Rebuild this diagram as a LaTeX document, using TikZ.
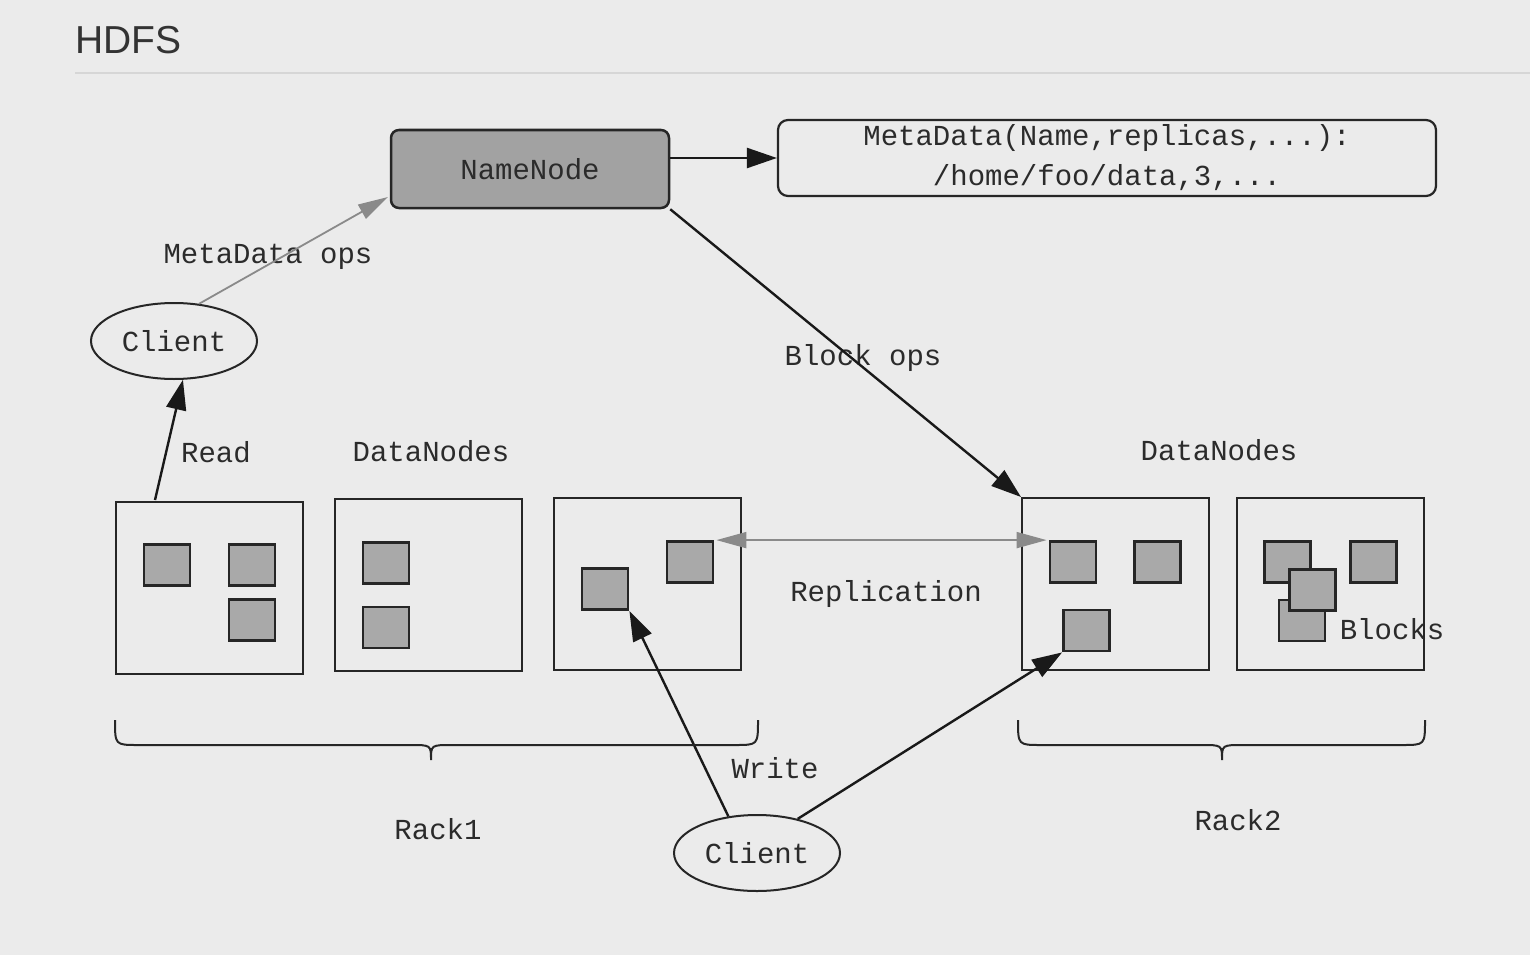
\documentclass[tikz,border=0pt]{standalone}
\usepackage{fontspec}
\setmainfont{Liberation Mono}
\newfontfamily\titlefont{Liberation Sans}
\usetikzlibrary{arrows.meta,calc,shapes.geometric}
\definecolor{bgc}{HTML}{EBEBEB}
\definecolor{txt}{HTML}{2B2B2B}
\definecolor{blkgray}{HTML}{A9A9A9}
\definecolor{nngray}{HTML}{A2A2A2}
\definecolor{arrgray}{HTML}{8A8A8A}
\definecolor{rulec}{HTML}{D6D6D6}
\begin{document}
\begin{tikzpicture}[x=1pt,y=-1pt,
  every node/.style={font=\fontsize{29}{40}\selectfont, text=txt, inner sep=0pt},
  dnode/.style={draw=black!85, line width=2pt, minimum width=187pt, minimum height=172pt},
  blk/.style={draw=black!85, line width=2.8pt, fill=blkgray, minimum width=46pt, minimum height=41pt},
  cli/.style={ellipse, draw=black!85, line width=2pt, minimum width=166pt, minimum height=76pt},
  blkarrow/.style={draw=black!90, line width=2.4pt, -{Triangle[length=30pt,width=20pt]}},
  grayarrow/.style={draw=arrgray, line width=1.8pt, -{Triangle[length=30pt,width=16pt]}},
  bracec/.style={draw=black!85, line width=2pt}
]
\useasboundingbox (0,0) rectangle (1530,955);
\fill[bgc] (0,0) rectangle (1530,955);
% title
\node[font=\titlefont\fontsize{39}{40}\selectfont, text=black!80, anchor=base west] (title) at (75,54) {HDFS};
\draw[rulec, line width=2pt] (75,73) -- (1530,73);

% NameNode and metadata
\node[draw=black!85, line width=2.5pt, fill=nngray, rounded corners=8pt, minimum width=278pt, minimum height=78pt] (nn) at (530,169) {NameNode};
\node[draw=black!85, line width=2.2pt, rounded corners=10pt, minimum width=658pt, minimum height=76pt, align=center] (meta) at (1107,158) {MetaData(Name,replicas,...):\\/home/foo/data,3,...};
\draw[blkarrow] (nn.east |- meta.west) -- (meta.west);

% clients
\node[cli] (c1) at (174,341) {Client};
\node[cli] (c2) at (757,853) {Client};

% datanodes
\node[dnode] (b1) at (209.5,587.5) {};
\node[dnode] (b2) at (428.5,585) {};
\node[dnode] (b3) at (647.5,584) {};
\node[dnode] (b4) at (1115.5,584) {};
\node[dnode] (b5) at (1330.5,584) {};

% blocks
\node[blk] (k11) at (167,565) {};
\node[blk] (k12) at (252,565) {};
\node[blk] (k13) at (252,620) {};
\node[blk] (k21) at (386,563) {};
\node[blk] (k22) at (386,627.5) {};
\node[blk] (k31) at (605,589) {};
\node[blk] (k32) at (690,562) {};
\node[blk] (k41) at (1073,562) {};
\node[blk] (k42) at (1157.5,562) {};
\node[blk] (k43) at (1086.5,630.5) {};
\node[blk] (k51) at (1287.5,562) {};
\node[blk] (k53) at (1302,620.5) {};
\node[blk] (k52) at (1312.5,590) {};
\node[blk] (k54) at (1373.5,562) {};

% labels
\node (lmd) at (268,257) {MetaData ops};
\node (lrd) at (216,452) {Read};
\node (ldn1) at (431,451) {DataNodes};
\node (ldn2) at (1219,450) {DataNodes};
\node (lbo) at (863,358) {Block ops};
\node (lrep) at (886,594) {Replication};
\node (lblk) at (1392,629) {Blocks};
\node (lwr) at (775,768) {Write};
\node (lr1) at (438,829) {Rack1};
\node (lr2) at (1238,820) {Rack2};

% connectors
\coordinate (mdend) at (388,197);
\draw[grayarrow] (c1.56) -- (mdend);
\coordinate (rdstart) at (155,500);
\draw[blkarrow] (rdstart) -- (c1.-77);
\draw[blkarrow] (nn.south east) -- (b4.north west);
\draw[grayarrow, {Triangle[length=30pt,width=16pt]}-{Triangle[length=30pt,width=16pt]}] ($(k32.north east)+(2,0)$) -- ($(k41.north west)+(-2,0)$);
\draw[blkarrow] (c2.128) -- (k31.south east);
\draw[blkarrow] (c2.40) -- (k43.south west);

% braces
\draw[bracec] (115,720) .. controls (115,745) .. (138,745) -- (410,745) .. controls (431,745) .. (431,760) .. controls (431,745) .. (452,745) -- (735,745) .. controls (758,745) .. (758,720);
\draw[bracec] (1018,720) .. controls (1018,745) .. (1041,745) -- (1201,745) .. controls (1222,745) .. (1222,760) .. controls (1222,745) .. (1243,745) -- (1402,745) .. controls (1425,745) .. (1425,720);
\end{tikzpicture}
\end{document}
